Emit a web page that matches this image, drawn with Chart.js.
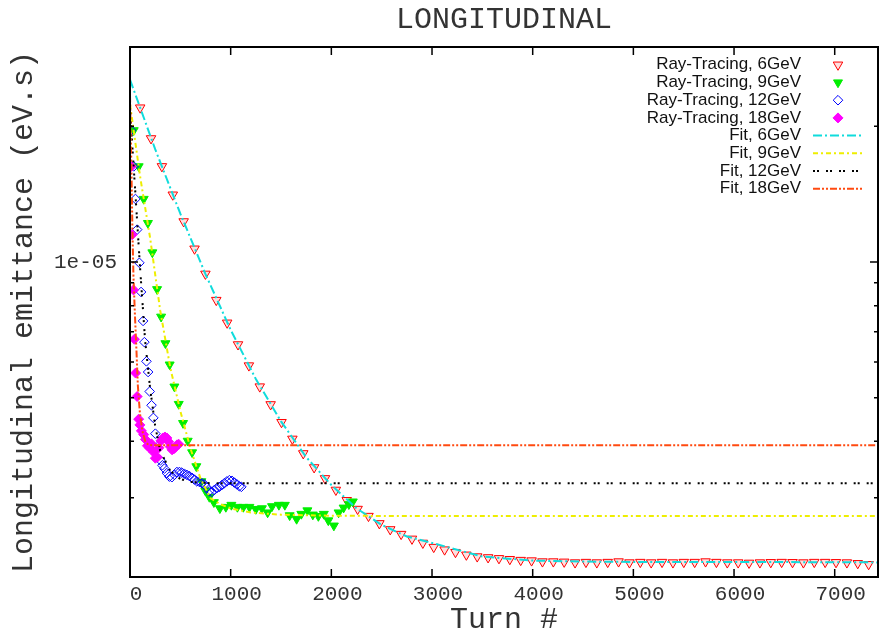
<!DOCTYPE html>
<html>
<head>
<meta charset="utf-8">
<title>Longitudinal emittance</title>
<script src="https://cdn.jsdelivr.net/npm/chart.js@4.4.1/dist/chart.umd.min.js"></script>
<style>
  html, body { margin: 0; padding: 0; background: #fff; }
  canvas { display: block; }
</style>
</head>
<body>
<canvas id="emitChart" width="879" height="635"></canvas>
<script>
// values: turn number vs longitudinal emittance (eV.s)
const rt6Turns = [101, 209, 317, 425, 533, 641, 749, 857, 965, 1073, 1181, 1289, 1397, 1505, 1613, 1721,
  1829, 1937, 2045, 2153, 2261, 2369, 2477, 2585, 2693, 2801, 2909, 3017, 3125, 3233, 3341, 3449, 3557,
  3665, 3773, 3881, 3989, 4097, 4205, 4313, 4421, 4529, 4637, 4745, 4853, 4961, 5069, 5177, 5285, 5393,
  5501, 5609, 5717, 5825, 5933, 6041, 6149, 6257, 6365, 6473, 6581, 6689, 6797, 6905, 7013, 7121, 7229, 7337];
const rt6Emit = [2.20e-5, 1.88e-5, 1.63e-5, 1.41e-5, 1.23e-5, 1.07e-5, 9.41e-6, 8.23e-6, 7.33e-6, 6.56e-6,
  5.89e-6, 5.29e-6, 4.83e-6, 4.41e-6, 4.05e-6, 3.76e-6, 3.50e-6, 3.31e-6, 3.12e-6, 2.96e-6, 2.83e-6,
  2.73e-6, 2.63e-6, 2.55e-6, 2.49e-6, 2.43e-6, 2.38e-6, 2.33e-6, 2.30e-6, 2.27e-6, 2.24e-6, 2.22e-6,
  2.21e-6, 2.20e-6, 2.19e-6, 2.18e-6, 2.175e-6, 2.164e-6, 2.164e-6, 2.161e-6, 2.153e-6,
  2.158e-6, 2.153e-6, 2.158e-6, 2.164e-6, 2.153e-6, 2.158e-6, 2.153e-6, 2.158e-6, 2.153e-6, 2.158e-6,
  2.158e-6, 2.164e-6, 2.158e-6, 2.153e-6, 2.153e-6, 2.149e-6, 2.153e-6, 2.156e-6, 2.158e-6, 2.156e-6,
  2.153e-6, 2.158e-6, 2.158e-6, 2.156e-6, 2.153e-6, 2.145e-6, 2.134e-6];

const rt9Turns = [37, 86, 136, 178, 222, 269, 309, 352, 394, 441, 484, 527, 573, 617, 659, 709, 748, 788,
  833, 893, 952, 1007, 1067, 1126, 1186, 1250, 1310, 1367, 1411, 1479, 1538, 1586, 1655, 1702, 1762,
  1816, 1871, 1925, 1970, 2025, 2072, 2122, 2174, 2213];
const rt9Emit = [1.96e-5, 1.63e-5, 1.38e-5, 1.22e-5, 1.05e-5, 8.70e-6, 7.56e-6, 6.60e-6, 5.92e-6, 5.29e-6,
  4.84e-6, 4.39e-6, 4.01e-6, 3.78e-6, 3.52e-6, 3.26e-6, 3.11e-6, 3.01e-6, 2.93e-6, 2.84e-6, 2.86e-6,
  2.89e-6, 2.86e-6, 2.86e-6, 2.86e-6, 2.83e-6, 2.84e-6, 2.78e-6, 2.87e-6, 2.89e-6, 2.89e-6, 2.74e-6,
  2.69e-6, 2.76e-6, 2.81e-6, 2.75e-6, 2.73e-6, 2.76e-6, 2.67e-6, 2.60e-6, 2.78e-6, 2.85e-6, 2.90e-6, 2.94e-6];

const rt12Turns = [11, 37, 54, 71, 93, 110, 130, 143, 163, 180, 196, 214, 232, 252, 275, 302, 322, 342,
  366, 391, 416, 441, 466, 491, 515, 540, 565, 590, 615, 640, 664, 689, 714, 739, 764, 788, 813, 838,
  863, 888, 913, 937, 962, 987, 1012, 1037, 1062, 1086, 1106];
const rt12Emit = [1.96e-5, 1.63e-5, 1.38e-5, 1.18e-5, 9.96e-6, 8.58e-6, 7.40e-6, 6.64e-6, 6.02e-6, 5.70e-6,
  5.16e-6, 4.81e-6, 4.51e-6, 4.16e-6, 3.89e-6, 3.63e-6, 3.54e-6, 3.48e-6, 3.40e-6, 3.34e-6, 3.33e-6,
  3.37e-6, 3.42e-6, 3.42e-6, 3.41e-6, 3.39e-6, 3.37e-6, 3.35e-6, 3.32e-6, 3.29e-6, 3.26e-6, 3.25e-6,
  3.23e-6, 3.21e-6, 3.16e-6, 3.10e-6, 3.09e-6, 3.12e-6, 3.15e-6, 3.17e-6, 3.20e-6, 3.23e-6, 3.26e-6,
  3.28e-6, 3.27e-6, 3.24e-6, 3.21e-6, 3.18e-6, 3.17e-6];

const rt18Turns = [13, 21, 35, 44, 56, 71, 86, 98, 113, 136, 153, 173, 193, 213, 232, 252, 272, 287, 307,
  327, 347, 366, 384, 401, 418, 436, 451, 468, 484];
const rt18Emit = [1.63e-5, 1.15e-5, 8.67e-6, 6.74e-6, 5.67e-6, 5.03e-6, 4.48e-6, 4.35e-6, 4.22e-6, 4.14e-6,
  4.04e-6, 3.91e-6, 3.87e-6, 3.95e-6, 3.79e-6, 3.67e-6, 3.69e-6, 3.87e-6, 4.01e-6, 4.07e-6, 4.09e-6,
  4.07e-6, 3.99e-6, 3.89e-6, 3.83e-6, 3.85e-6, 3.88e-6, 3.93e-6, 3.94e-6];

const fit6Turns = [0, 250, 500, 750, 1000, 1250, 1500, 1750, 2000, 2250, 2500, 2750, 3000, 3500, 4000, 4500, 5000, 6000, 7430];
const fit6Emit = [2.54e-5, 1.78e-5, 1.28e-5, 9.40e-6, 7.07e-6, 5.50e-6, 4.43e-6, 3.69e-6, 3.20e-6, 2.84e-6,
  2.61e-6, 2.46e-6, 2.38e-6, 2.22e-6, 2.175e-6, 2.164e-6, 2.16e-6, 2.16e-6, 2.155e-6];

const fit9Turns = [0, 100, 200, 300, 400, 500, 600, 700, 800, 900, 1000, 1200, 1500, 2000, 3000, 7430];
const fit9Emit = [2.24e-5, 1.55e-5, 1.13e-5, 7.81e-6, 5.83e-6, 4.67e-6, 3.86e-6, 3.31e-6, 2.99e-6, 2.90e-6,
  2.84e-6, 2.78e-6, 2.75e-6, 2.735e-6, 2.73e-6, 2.73e-6];

const fit12Turns = [0, 25, 50, 75, 100, 150, 200, 250, 300, 400, 500, 600, 800, 7430];
const fit12Emit = [2.19e-5, 1.78e-5, 1.46e-5, 1.19e-5, 9.71e-6, 6.70e-6, 5.24e-6, 4.33e-6, 3.81e-6, 3.44e-6,
  3.30e-6, 3.25e-6, 3.23e-6, 3.23e-6];

const fit18Turns = [0, 14, 24, 34, 49, 64, 78, 98, 123, 153, 183, 223, 7430];
const fit18Emit = [2.34e-5, 1.61e-5, 1.18e-5, 9.36e-6, 7.62e-6, 6.37e-6, 5.32e-6, 4.63e-6, 4.22e-6, 3.99e-6,
  3.93e-6, 3.92e-6, 3.92e-6];

const seriesNames = ['Ray-Tracing, 6GeV', 'Ray-Tracing, 9GeV', 'Ray-Tracing, 12GeV', 'Ray-Tracing, 18GeV',
  'Fit, 6GeV', 'Fit, 9GeV', 'Fit, 12GeV', 'Fit, 18GeV'];

const xTicks = [0, 1000, 2000, 3000, 4000, 5000, 6000, 7000];
const xTickLabels = ['0', '1000', '2000', '3000', '4000', '5000', '6000', '7000'];
const yTicks = [2e-6, 3e-6, 4e-6, 5e-6, 6e-6, 7e-6, 8e-6, 9e-6, 1e-5, 2e-5, 3e-5];
const yTickLabels = ['', '', '', '', '', '', '', '', '1e-05', '', ''];

const MONO = "'Liberation Mono', 'Courier New', monospace";
const TEXT = '#333';

function pts(xs, ys) {
	return xs.map((x, i) => ({ x: x, y: ys[i] }));
}

function markers(name, xs, ys, style, radius, stroke, fill, order) {
	return {
		label: name, data: pts(xs, ys), showLine: false,
		pointStyle: style, pointRotation: style === 'triangle' ? 180 : 0,
		pointRadius: radius, pointHoverRadius: radius, pointBorderWidth: 1,
		pointBorderColor: stroke, pointBackgroundColor: fill,
		borderColor: stroke, backgroundColor: fill, order: order
	};
}

function fitLine(name, xs, ys, color, dash, order) {
	return {
		label: name, data: pts(xs, ys), showLine: true, pointRadius: 0,
		borderColor: color, backgroundColor: color, borderWidth: 2, borderDash: dash, order: order
	};
}

// gnuplot style box with inward ticks on all four sides
const frame = {
	id: 'frame',
	afterDatasetsDraw(chart) {
		const { ctx, chartArea: a, scales: { x, y } } = chart;
		ctx.save();
		ctx.strokeStyle = '#000';
		ctx.lineWidth = 1.5;
		ctx.beginPath();
		xTicks.forEach(v => {
			const px = x.getPixelForValue(v);
			ctx.moveTo(px, a.bottom); ctx.lineTo(px, a.bottom - 8);
			ctx.moveTo(px, a.top); ctx.lineTo(px, a.top + 8);
		});
		yTicks.forEach((v, i) => {
			const py = y.getPixelForValue(v);
			const len = yTickLabels[i] ? 8 : 4;
			ctx.moveTo(a.left, py); ctx.lineTo(a.left + len, py);
			ctx.moveTo(a.right, py); ctx.lineTo(a.right - len, py);
		});
		ctx.stroke();
		ctx.lineWidth = 2;
		ctx.strokeRect(a.left, a.top, a.right - a.left, a.bottom - a.top);
		ctx.restore();
	}
};

// key in the top right corner: text right aligned, sample to its right
const keyBox = {
	id: 'keyBox',
	afterDraw(chart) {
		const { ctx, chartArea: a } = chart;
		ctx.save();
		ctx.font = "17px 'Liberation Sans', Arial, sans-serif";
		ctx.textAlign = 'right';
		ctx.textBaseline = 'middle';
		chart.data.datasets.forEach((ds, i) => {
			const yy = a.top + 17.8 + i * 17.7;
			ctx.fillStyle = '#111';
			ctx.fillText(ds.label, a.right - 77, yy);
			if (ds.showLine) {
				ctx.strokeStyle = ds.borderColor;
				ctx.lineWidth = 2;
				ctx.setLineDash(ds.borderDash);
				ctx.beginPath();
				ctx.moveTo(a.right - 65, yy);
				ctx.lineTo(a.right - 15, yy);
				ctx.stroke();
				ctx.setLineDash([]);
			} else {
				ctx.strokeStyle = ds.pointBorderColor;
				ctx.fillStyle = ds.pointBackgroundColor;
				ctx.lineWidth = 1;
				Chart.helpers.drawPoint(ctx, {
					pointStyle: ds.pointStyle, rotation: ds.pointRotation,
					radius: ds.pointRadius, borderWidth: 1
				}, a.right - 40, yy);
			}
		});
		ctx.restore();
	}
};

new Chart(document.getElementById('emitChart'), {
	type: 'scatter',
	data: {
		datasets: [
			markers(seriesNames[0], rt6Turns, rt6Emit, 'triangle', 5.5, '#ff0000', 'rgba(255,150,150,0.3)', 8),
			markers(seriesNames[1], rt9Turns, rt9Emit, 'triangle', 5.2, '#00ee00', '#00ee00', 7),
			markers(seriesNames[2], rt12Turns, rt12Emit, 'rectRot', 4.8, '#0000ff', 'rgba(255,255,255,0)', 6),
			markers(seriesNames[3], rt18Turns, rt18Emit, 'rectRot', 5, '#ff00ff', '#ff00ff', 5),
			fitLine(seriesNames[4], fit6Turns, fit6Emit, '#10dcdc', [9, 3, 2, 3], 4),
			fitLine(seriesNames[5], fit9Turns, fit9Emit, '#eeee00', [5, 3, 2, 3], 3),
			fitLine(seriesNames[6], fit12Turns, fit12Emit, '#000000', [2, 2, 2, 7], 2),
			fitLine(seriesNames[7], fit18Turns, fit18Emit, '#ff4a10', [7, 2, 2, 2, 2, 2], 1)
		]
	},
	options: {
		responsive: false,
		animation: false,
		events: [],
		layout: { autoPadding: false, padding: { left: 0, right: 1, top: 0, bottom: 0 } },
		plugins: {
			legend: { display: false },
			tooltip: { enabled: false },
			title: {
				display: true,
				text: 'LONGITUDINAL',
				fullSize: false,
				color: TEXT,
				font: { family: MONO, size: 30, weight: 'normal', lineHeight: 1 },
				padding: { top: 5, bottom: 12 }
			}
		},
		scales: {
			x: {
				type: 'linear',
				min: 0,
				max: 7430,
				grid: { display: false, drawTicks: false },
				border: { display: false },
				afterBuildTicks: s => { s.ticks = xTicks.map(v => ({ value: v })); },
				afterFit: s => { s.height = 58; s.paddingLeft = 0; s.paddingRight = 0; },
				ticks: {
					autoSkip: false,
					maxRotation: 0,
					padding: 0,
					labelOffset: 6,
					color: TEXT,
					font: { family: MONO, size: 21, lineHeight: 1.7 },
					callback: (v, i) => xTickLabels[i]
				},
				title: {
					display: true,
					text: 'Turn #',
					color: TEXT,
					font: { family: MONO, size: 30, lineHeight: 1 },
					padding: { top: 0, bottom: 0 }
				}
			},
			y: {
				type: 'logarithmic',
				min: 2e-6,
				max: 3e-5,
				grid: { display: false, drawTicks: false },
				border: { display: false },
				afterBuildTicks: s => { s.ticks = yTicks.map(v => ({ value: v })); },
				afterFit: s => { s.width = 130; },
				ticks: {
					autoSkip: false,
					padding: 13,
					color: TEXT,
					font: { family: MONO, size: 21 },
					callback: (v, i) => yTickLabels[i]
				},
				title: {
					display: true,
					text: 'Longitudinal emittance (eV.s)',
					color: TEXT,
					font: { family: MONO, size: 30, lineHeight: 1 },
					padding: { top: 9, bottom: 0 }
				}
			}
		}
	},
	plugins: [frame, keyBox]
});
</script>
</body>
</html>
